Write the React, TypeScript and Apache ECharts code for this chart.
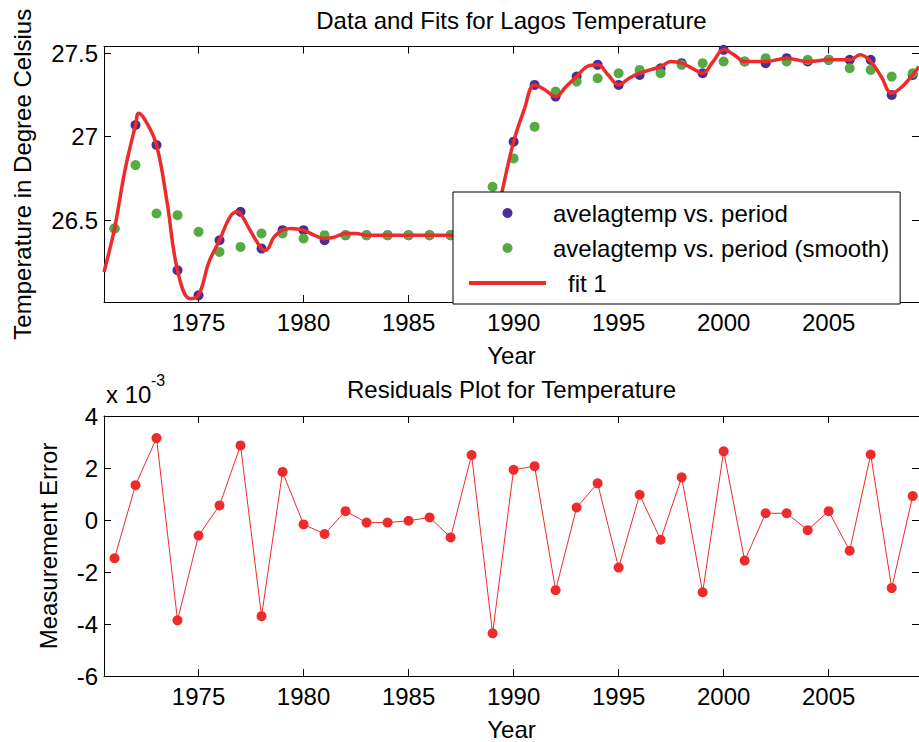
import React, { useEffect, useRef } from "react";
import * as echarts from "echarts";

// ---- Data ----
const YEARS = [
  1971, 1972, 1973, 1974, 1975, 1976, 1977, 1978, 1979, 1980,
  1981, 1982, 1983, 1984, 1985, 1986, 1987, 1988, 1989, 1990,
  1991, 1992, 1993, 1994, 1995, 1996, 1997, 1998, 1999, 2000,
  2001, 2002, 2003, 2004, 2005, 2006, 2007, 2008, 2009,
];

// avelagtemp vs. period (raw data)
const TEMP = [
  26.45, 27.07, 26.95, 26.2, 26.05, 26.38, 26.55, 26.33, 26.44, 26.44,
  26.38, 26.41, 26.41, 26.41, 26.41, 26.41, 26.41, 26.41, 26.42, 26.97,
  27.31, 27.24, 27.36, 27.43, 27.31, 27.37, 27.41, 27.44, 27.38, 27.52,
  27.45, 27.44, 27.47, 27.45, 27.46, 27.46, 27.46, 27.25, 27.37,
];

// avelagtemp vs. period (smooth)
const TEMP_SMOOTH = [
  26.45, 26.83, 26.54, 26.53, 26.43, 26.31, 26.34, 26.42, 26.42, 26.39,
  26.41, 26.41, 26.41, 26.41, 26.41, 26.41, 26.41, 26.52, 26.7, 26.87,
  27.06, 27.27, 27.33, 27.35, 27.38, 27.4, 27.38, 27.43, 27.44, 27.45,
  27.45, 27.47, 27.45, 27.46, 27.46, 27.41, 27.4, 27.36, 27.38,
];

// fit 1 (curve read at data years and at its turning points)
const FIT_X = [
  1970.5, 1971, 1971.5, 1972, 1972.15, 1972.5, 1973, 1973.5, 1974, 1974.6,
  1975, 1975.5, 1976, 1976.5, 1976.85, 1977, 1977.5, 1978, 1978.2, 1978.6,
  1979, 1979.4, 1980, 1980.5, 1981, 1981.5, 1982, 1982.5, 1983, 1984,
  1985, 1986, 1987, 1988, 1989, 1989.45, 1990, 1990.5, 1991, 1991.5,
  1992, 1992.5, 1993, 1993.5, 1994, 1994.5, 1995, 1995.5, 1996, 1996.5,
  1997, 1997.5, 1998, 1998.5, 1999, 1999.5, 2000, 2000.5, 2001, 2002,
  2003, 2004, 2005, 2006, 2006.5, 2007, 2007.5, 2008, 2008.5, 2009, 2009.3,
];
const FIT_Y = [
  26.19, 26.45, 26.8, 27.07, 27.14, 27.09, 26.95, 26.61, 26.2, 26.03,
  26.05, 26.25, 26.38, 26.52, 26.55, 26.54, 26.43, 26.33, 26.32, 26.4,
  26.44, 26.45, 26.44, 26.41, 26.39, 26.4, 26.42, 26.42, 26.41, 26.41,
  26.41, 26.41, 26.41, 26.41, 26.42, 26.67, 26.97, 27.16, 27.31, 27.28,
  27.24, 27.3, 27.36, 27.42, 27.43, 27.37, 27.31, 27.35, 27.38, 27.4,
  27.42, 27.45, 27.44, 27.41, 27.38, 27.45, 27.52, 27.49, 27.45, 27.45,
  27.47, 27.45, 27.46, 27.46, 27.49, 27.45, 27.36, 27.26, 27.3, 27.37, 27.42,
];

// Residuals, in units of 1e-3
const RESIDUALS_E3 = [
  -1.47, 1.34, 3.15, -3.86, -0.6, 0.56, 2.87, -3.7, 1.85, -0.17,
  -0.54, 0.34, -0.1, -0.1, -0.03, 0.1, -0.67, 2.5, -4.36, 1.93,
  2.07, -2.7, 0.48, 1.41, -1.83, 0.97, -0.76, 1.64, -2.78, 2.64,
  -1.56, 0.26, 0.26, -0.39, 0.34, -1.18, 2.52, -2.62, 0.92,
];

const X_TICKS = [1975, 1980, 1985, 1990, 1995, 2000, 2005];
const TOP_Y_TICKS = [26.5, 27, 27.5];
const BOTTOM_Y_TICKS = [-6, -4, -2, 0, 2, 4];

const NAME_DATA = "avelagtemp vs. period";
const NAME_SMOOTH = "avelagtemp vs. period (smooth)";
const NAME_FIT = "fit 1";

const FONT = "'Liberation Sans', Arial, Helvetica, sans-serif";
const BLUE = "#4b2c98";
const GREEN = "#55aa44";
const RED = "#ee2b2b";

function xAxisCfg(gridIndex: number, top: boolean, withName: boolean) {
  return {
    type: "value",
    gridIndex,
    position: top ? "top" : "bottom",
    min: 1970.5,
    max: 2009.3,
    splitLine: { show: false },
    axisLine: { show: true, onZero: false, lineStyle: { color: "#000", width: 1 } },
    axisTick: { show: true, inside: true, length: 7, customValues: X_TICKS, lineStyle: { color: "#000" } },
    axisLabel: {
      show: !top,
      customValues: X_TICKS,
      formatter: (v: number) => String(v),
      color: "#000",
      fontSize: 24,
      fontFamily: FONT,
      margin: 8,
    },
    name: withName ? "Year" : "",
    nameLocation: "middle",
    nameGap: 41,
    nameTextStyle: { color: "#000", fontSize: 24, fontFamily: FONT },
  };
}

function yAxisCfg(
  gridIndex: number,
  right: boolean,
  min: number,
  max: number,
  ticks: number[],
  name: string,
  nameGap: number
) {
  return {
    type: "value",
    gridIndex,
    position: right ? "right" : "left",
    min,
    max,
    splitLine: { show: false },
    axisLine: { show: true, onZero: false, lineStyle: { color: "#000", width: 1 } },
    axisTick: { show: true, inside: true, length: 7, customValues: ticks, lineStyle: { color: "#000" } },
    axisLabel: {
      show: !right,
      customValues: ticks,
      formatter: (v: number) => String(v),
      color: "#000",
      fontSize: 24,
      fontFamily: FONT,
      margin: 6,
    },
    name: right ? "" : name,
    nameLocation: "middle",
    nameRotate: 90,
    nameGap,
    nameTextStyle: { color: "#000", fontSize: 24, fontFamily: FONT },
  };
}

export default function App() {
  const ref = useRef<HTMLDivElement>(null);

  useEffect(() => {
    document.body.style.margin = "0";
    if (!ref.current) return;
    const chart = echarts.init(ref.current, undefined, { renderer: "svg" });

    const option = {
      animation: false,
      backgroundColor: "#fff",
      textStyle: { fontFamily: FONT },
      grid: [
        { left: 104, right: -1, top: 46.5, height: 255.5 },
        { left: 104, right: -1, top: 416, height: 261 },
      ],
      xAxis: [
        xAxisCfg(0, false, true),
        xAxisCfg(0, true, false),
        xAxisCfg(1, false, true),
        xAxisCfg(1, true, false),
      ],
      yAxis: [
        yAxisCfg(0, false, 26.01, 27.54, TOP_Y_TICKS, "Temperature in Degree Celsius", 70),
        yAxisCfg(0, true, 26.01, 27.54, TOP_Y_TICKS, "", 0),
        yAxisCfg(1, false, -6, 4, BOTTOM_Y_TICKS, "Measurement Error", 44),
        yAxisCfg(1, true, -6, 4, BOTTOM_Y_TICKS, "", 0),
      ],
      legend: {
        data: [
          NAME_DATA,
          NAME_SMOOTH,
          { name: NAME_FIT, itemStyle: { opacity: 0 }, lineStyle: { width: 4, color: RED } },
        ],
        orient: "vertical",
        align: "left",
        left: 453,
        top: 192,
        padding: [9, 11, 9, 14],
        itemGap: 11,
        itemWidth: 77,
        itemHeight: 10,
        selectedMode: false,
        backgroundColor: "#fff",
        borderColor: "#000",
        borderWidth: 1,
        borderRadius: 0,
        formatter: (name: string) => (name === NAME_FIT ? "{ind|" + name + "}" : name),
        textStyle: {
          color: "#000",
          fontSize: 24,
          fontFamily: FONT,
          lineHeight: 24,
          padding: [0, 0, 0, 2],
          rich: {
            ind: { color: "#000", fontSize: 24, fontFamily: FONT, lineHeight: 24, padding: [0, 0, 0, 15] },
          },
        },
      },
      graphic: [
        {
          type: "text",
          x: 511.5,
          y: 20,
          style: {
            text: "Data and Fits for Lagos Temperature",
            font: "24px " + FONT,
            fill: "#000",
            textAlign: "center",
            textVerticalAlign: "middle",
          },
        },
        {
          type: "text",
          x: 511.5,
          y: 389,
          style: {
            text: "Residuals Plot for Temperature",
            font: "24px " + FONT,
            fill: "#000",
            textAlign: "center",
            textVerticalAlign: "middle",
          },
        },
        {
          type: "text",
          x: 106,
          y: 394,
          style: { text: "x 10", font: "24px " + FONT, fill: "#000", textAlign: "left", textVerticalAlign: "middle" },
        },
        {
          type: "text",
          x: 151,
          y: 380,
          style: { text: "-3", font: "16px " + FONT, fill: "#000", textAlign: "left", textVerticalAlign: "middle" },
        },
      ],
      series: [
        {
          name: NAME_DATA,
          type: "scatter",
          xAxisIndex: 0,
          yAxisIndex: 0,
          symbol: "circle",
          symbolSize: 10,
          itemStyle: { color: BLUE, opacity: 1 },
          data: YEARS.map((y, i) => [y, TEMP[i]]),
          z: 2,
          silent: true,
        },
        {
          name: NAME_SMOOTH,
          type: "scatter",
          xAxisIndex: 0,
          yAxisIndex: 0,
          symbol: "circle",
          symbolSize: 10,
          itemStyle: { color: GREEN, opacity: 1 },
          data: YEARS.map((y, i) => [y, TEMP_SMOOTH[i]]),
          z: 2,
          silent: true,
        },
        {
          name: NAME_FIT,
          type: "line",
          xAxisIndex: 0,
          yAxisIndex: 0,
          smooth: 0.4,
          symbol: "none",
          showSymbol: false,
          itemStyle: { color: RED },
          lineStyle: { color: RED, width: 3.5 },
          data: FIT_X.map((x, i) => [x, FIT_Y[i]]),
          z: 3,
          silent: true,
        },
        {
          name: "residuals",
          type: "line",
          xAxisIndex: 2,
          yAxisIndex: 2,
          symbol: "circle",
          symbolSize: 10,
          showSymbol: true,
          itemStyle: { color: RED },
          lineStyle: { color: RED, width: 1 },
          data: YEARS.map((y, i) => [y, RESIDUALS_E3[i]]),
          z: 3,
          silent: true,
        },
      ],
    };

    chart.setOption(option as any);
    return () => chart.dispose();
  }, []);

  return (
    <div
      ref={ref}
      style={{ position: "fixed", left: 0, top: 0, width: 919, height: 742, background: "#fff" }}
    />
  );
}
